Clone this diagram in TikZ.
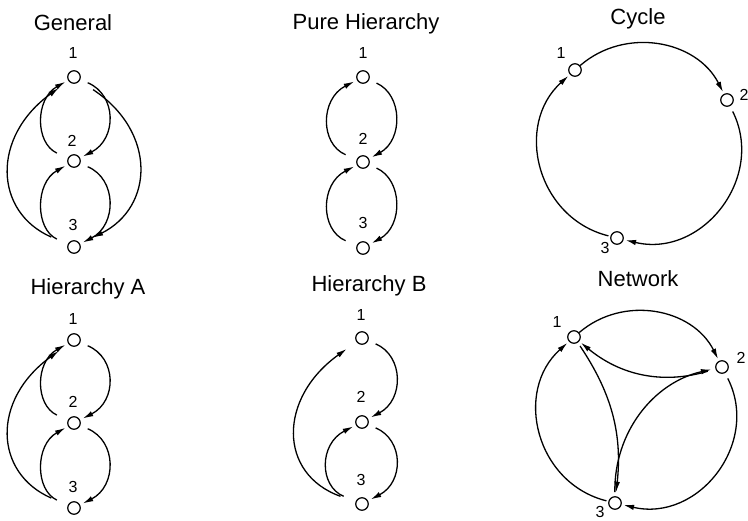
\documentclass[tikz,border=0pt]{standalone}
\usepackage{fontspec}
\setmainfont{Liberation Sans}
\usetikzlibrary{arrows.meta}
\begin{document}
\begin{tikzpicture}[x=1pt,y=-1pt,
  vtx/.style={circle, draw, line width=1.2pt, minimum size=12.5pt, inner sep=0pt},
  arr/.style={line width=1.3pt, -{Latex[length=10.5pt,width=5.5pt]}},
  ttl/.style={font=\fontsize{22}{22}\selectfont, anchor=base, inner sep=0pt},
  num/.style={font=\fontsize{16}{16}\selectfont, inner sep=0pt}]
\useasboundingbox (0,0) rectangle (748,521);

% ---------- General ----------
\node[ttl] (tG) at (73,31) {General};
\node[vtx] (g1) at (74,77) {};
\node[vtx] (g2) at (74,161) {};
\node[vtx] (g3) at (74,247) {};
\node[num] (lg1) at (73,53) {1};
\node[num] (lg2) at (72,141) {2};
\node[num] (lg3) at (73,225) {3};
\draw[arr, shorten <=12pt, shorten >=3pt] (g2) .. controls +(-39,-18) and +(-39,22) .. (g1);
\draw[arr, shorten <=8pt, shorten >=3pt] (g1) .. controls +(43,18) and +(43,-22) .. (g2);
\draw[arr, shorten <=12pt, shorten >=3pt] (g3) .. controls +(-39,-18) and +(-39,22) .. (g2);
\draw[arr, shorten <=8pt, shorten >=3pt] (g2) .. controls +(43,18) and +(43,-22) .. (g3);
\draw[arr, shorten <=18pt, shorten >=12pt] (g3) .. controls +(-80,-35) and +(-83,60) .. (g1);
\draw[arr, shorten <=16pt, shorten >=14pt] (g1) .. controls +(83,55) and +(80,-40) .. (g3);

% ---------- Pure Hierarchy ----------
\node[ttl] (tP) at (366,30) {Pure Hierarchy};
\node[vtx] (p1) at (363,77) {};
\node[vtx] (p2) at (363,162) {};
\node[vtx] (p3) at (363,248) {};
\node[num] (lp1) at (363,53) {1};
\node[num] (lp2) at (363,139) {2};
\node[num] (lp3) at (363,223) {3};
\draw[arr, shorten <=12pt, shorten >=3pt] (p2) .. controls +(-43,-18) and +(-43,22) .. (p1);
\draw[arr, shorten <=8pt, shorten >=3pt] (p1) .. controls +(40,18) and +(40,-22) .. (p2);
\draw[arr, shorten <=12pt, shorten >=3pt] (p3) .. controls +(-43,-18) and +(-43,22) .. (p2);
\draw[arr, shorten <=8pt, shorten >=3pt] (p2) .. controls +(40,18) and +(40,-22) .. (p3);

% ---------- Cycle ----------
\node[ttl] (tC) at (638,25) {Cycle};
\node[vtx] (c1) at (575,70) {};
\node[vtx] (c2) at (727,100) {};
\node[vtx] (c3) at (617,238) {};
\node[num] (lc1) at (561,53) {1};
\node[num] (lc2) at (744,95) {2};
\node[num] (lc3) at (605,248) {3};
\draw[arr, shorten >=2pt] (c1) to[bend left=52, looseness=1.05] (c2);
\draw[arr, shorten <=6pt, shorten >=2pt] (c2) to[bend left=65, looseness=1.2] (c3);
\draw[arr, shorten <=2pt, shorten >=2pt] (c3) to[bend left=62, looseness=1.16] (c1);

% ---------- Hierarchy A ----------
\node[ttl] (tA) at (88,295) {Hierarchy A};
\node[vtx] (a1) at (74,340) {};
\node[vtx] (a2) at (74,423) {};
\node[vtx] (a3) at (74,508) {};
\node[num] (la1) at (73,319) {1};
\node[num] (la2) at (73,402) {2};
\node[num] (la3) at (73,487) {3};
\draw[arr, shorten <=12pt, shorten >=3pt] (a2) .. controls +(-39,-18) and +(-39,22) .. (a1);
\draw[arr, shorten <=8pt, shorten >=3pt] (a1) .. controls +(43,18) and +(43,-22) .. (a2);
\draw[arr, shorten <=12pt, shorten >=3pt] (a3) .. controls +(-39,-18) and +(-39,22) .. (a2);
\draw[arr, shorten <=8pt, shorten >=3pt] (a2) .. controls +(43,18) and +(43,-22) .. (a3);
\draw[arr, shorten <=18pt, shorten >=12pt] (a3) .. controls +(-80,-35) and +(-83,60) .. (a1);

% ---------- Hierarchy B ----------
\node[ttl] (tB) at (369,292) {Hierarchy B};
\node[vtx] (b1) at (362,338) {};
\node[vtx] (b2) at (362,422) {};
\node[vtx] (b3) at (362,504) {};
\node[num] (lb1) at (361,315) {1};
\node[num] (lb2) at (361,397) {2};
\node[num] (lb3) at (361,480) {3};
\draw[arr, shorten <=8pt, shorten >=3pt] (b1) .. controls +(42,18) and +(42,-22) .. (b2);
\draw[arr, shorten <=13pt, shorten >=3pt] (b3) .. controls +(-43,-18) and +(-43,22) .. (b2);
\draw[arr, shorten <=8pt, shorten >=3pt] (b2) .. controls +(42,18) and +(42,-22) .. (b3);
\draw[arr, shorten <=16pt, shorten >=12pt] (b3) .. controls +(-84,-30) and +(-84,60) .. (b1);

% ---------- Network ----------
\node[ttl] (tN) at (638,287) {Network};
\node[vtx] (n1) at (574,337) {};
\node[vtx] (n2) at (722,367) {};
\node[vtx] (n3) at (615,503) {};
\node[num] (ln1) at (557,322) {1};
\node[num] (ln2) at (741,358) {2};
\node[num] (ln3) at (600,512) {3};
\draw[arr, shorten >=2pt] (n1) to[bend left=52, looseness=1.05] (n2);
\draw[arr, shorten <=6pt, shorten >=2pt] (n2) to[bend left=65, looseness=1.2] (n3);
\draw[arr, shorten <=2pt, shorten >=2pt] (n3) to[bend left=62, looseness=1.16] (n1);
\draw[arr, shorten <=8pt, shorten >=2pt] (n2) to[bend left=28] (n1);
\draw[arr, shorten <=4pt, shorten >=4pt] (n3) to[bend left=39] (n2);
\draw[arr, shorten <=4pt, shorten >=4pt] (n1) to[bend left=20] (n3);
\end{tikzpicture}
\end{document}
